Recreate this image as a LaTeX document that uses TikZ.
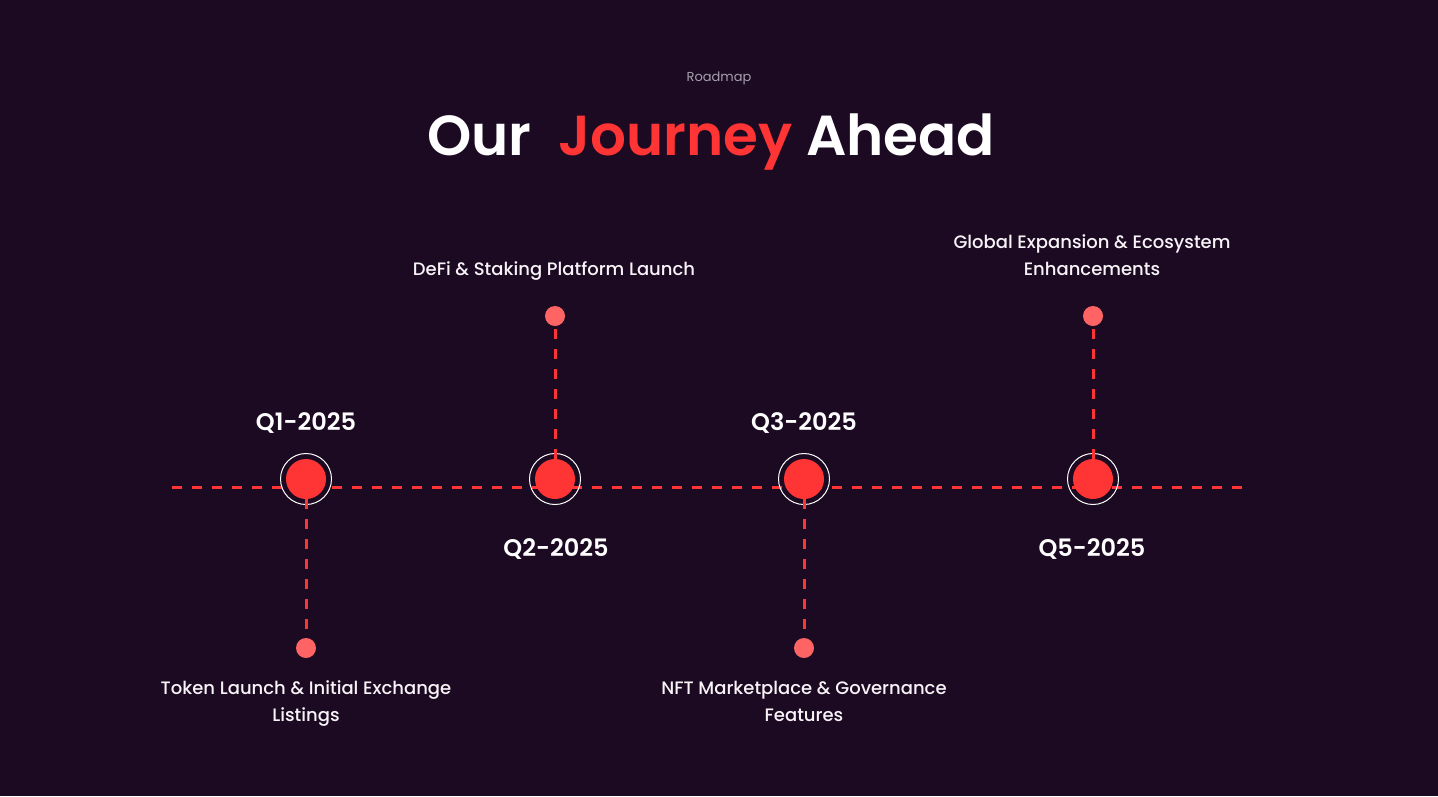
\documentclass[tikz,border=0pt]{standalone}
\usepackage{fontspec}
\setmainfont{Poppins}
\newfontfamily\popsb{Poppins SemiBold}
\newfontfamily\popmd{Poppins Medium}
\definecolor{bg}{HTML}{1C0A22}
\definecolor{accent}{HTML}{FF3434}
\definecolor{softred}{HTML}{FF6464}
\definecolor{muted}{HTML}{A8A0AE}
\definecolor{txt}{HTML}{F7F3F7}
\tikzset{
  dashline/.style={draw=accent, line width=3pt, dash pattern=on 10pt off 10pt},
  bigdot/.style={circle, fill=accent, minimum size=40pt, inner sep=0pt},
  ring/.style={circle, draw=white, line width=1pt, minimum size=51pt, inner sep=0pt},
  smalldot/.style={circle, fill=softred, minimum size=20pt, inner sep=0pt},
  qlabel/.style={text=white, font=\popsb\fontsize{24}{28}\selectfont},
  desc/.style={text=txt, align=center, font=\popmd\fontsize{18}{27}\selectfont},
}
\begin{document}
\begin{tikzpicture}[x=1pt,y=-1pt]
\fill[bg] (0,0) rectangle (1438,796);
\useasboundingbox (0,0) rectangle (1438,796);

% title
\node[text=muted, font=\fontsize{13}{15}\selectfont] (sub) at (719,78) {Roadmap};
\node[font=\popsb\fontsize{56.4}{64}\selectfont, text=white] (title) at (711,142)
  {Our\ \ \textcolor{accent}{Journey} Ahead};

% main line
\coordinate (L) at (172,487);
\coordinate (R) at (1246,487);
\draw[dashline] (L) -- (R);

% milestones
\node[ring] (r1) at (306,479) {};
\node[ring] (r2) at (555,479) {};
\node[ring] (r3) at (804,479) {};
\node[ring] (r5) at (1093,479) {};

\node[smalldot] (d1) at (306,648) {};
\node[smalldot] (d2) at (555,316) {};
\node[smalldot] (d3) at (804,648) {};
\node[smalldot] (d5) at (1093,316) {};

\draw[dashline] (r1.center) -- (d1);
\draw[dashline] (r2.center) -- (d2);
\draw[dashline] (r3.center) -- (d3);
\draw[dashline] (r5.center) -- (d5);

\node[bigdot] (c1) at (306,479) {};
\node[bigdot] (c2) at (555,479) {};
\node[bigdot] (c3) at (804,479) {};
\node[bigdot] (c5) at (1093,479) {};

% quarter labels
\node[qlabel] (q1) at (306,423) {Q1-2025};
\node[qlabel] (q2) at (556,549) {Q2-2025};
\node[qlabel] (q3) at (804,423) {Q3-2025};
\node[qlabel] (q5) at (1092,549) {Q5-2025};

% descriptions
\node[desc] (t1) at (306,704) {Token Launch \& Initial Exchange\\Listings};
\node[desc] (t2) at (554,271) {DeFi \& Staking Platform Launch};
\node[desc] (t3) at (804,701) {NFT Marketplace \& Governance\\Features};
\node[desc] (t5) at (1092,255) {Global Expansion \& Ecosystem\\Enhancements};
\end{tikzpicture}
\end{document}
